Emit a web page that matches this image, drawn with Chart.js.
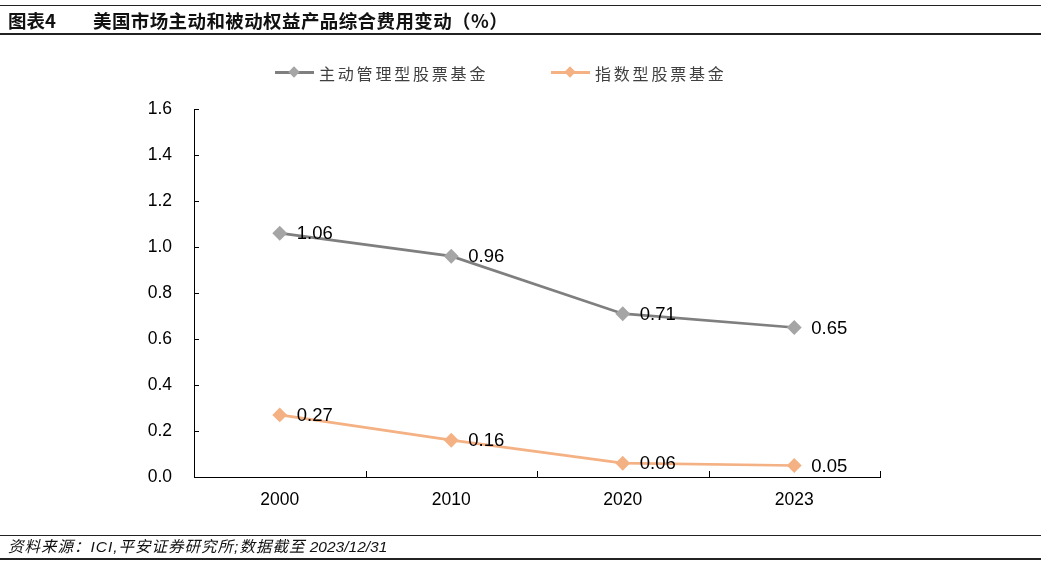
<!DOCTYPE html>
<html><head><meta charset="utf-8">
<script src="https://cdn.jsdelivr.net/npm/chart.js@4.4.0/dist/chart.umd.min.js"></script>
<style>
html,body{margin:0;padding:0;background:#fff;}
body{width:1041px;height:565px;position:relative;overflow:hidden;font-family:"Liberation Sans",Arial,sans-serif;}
#wrap{position:absolute;left:0;top:0;width:1041px;height:565px;}
.hdr{position:absolute;left:0;top:5px;width:1041px;height:30px;border-top:1px solid #222;border-bottom:2px solid #222;box-sizing:border-box;}
.hdr span{position:absolute;top:1px;line-height:26px;font-family:"Noto Sans CJK SC",sans-serif;font-weight:bold;font-size:18.5px;color:#111;}
.ftr{position:absolute;left:0;top:535px;width:1041px;height:25px;border-top:1px solid #222;border-bottom:2px solid #222;box-sizing:border-box;}
.ftr .t{position:absolute;left:8px;top:0px;line-height:22px;white-space:nowrap;font-family:"Liberation Sans","Noto Sans CJK SC",sans-serif;font-style:italic;font-size:15.5px;color:#111;}
.ftr .cj{letter-spacing:1px;}
.leg{position:absolute;top:61px;height:22px;}
.leg .ln{position:absolute;top:10px;left:0;width:39px;height:3px;}
.leg .dm{position:absolute;top:7px;left:15px;width:8px;height:8px;transform:rotate(45deg);}
.leg .tx{position:absolute;left:44px;top:0;white-space:nowrap;font-family:"Noto Sans CJK SC",sans-serif;font-size:16px;letter-spacing:2.8px;color:#404040;}
</style></head>
<body>
<div id="wrap"><canvas id="c" width="1041" height="565"></canvas></div>
<div class="hdr"><span style="left:8px">图表4</span><span style="left:93px;letter-spacing:0.4px">美国市场主动和被动权益产品综合费用变动（%）</span></div>
<div class="leg" style="left:275px"><div class="ln" style="background:#7f7f7f"></div><div class="dm" style="background:#a5a5a5"></div><div class="tx">主动管理型股票基金</div></div>
<div class="leg" style="left:551px"><div class="ln" style="background:#f4b183"></div><div class="dm" style="background:#f4b183"></div><div class="tx">指数型股票基金</div></div>
<div class="ftr"><span class="t"><span class="cj">资料来源：ICI,平安证券研究所;数据截至</span> 2023/12/31</span></div>
<script>
const categories = ["2000", "2010", "2020", "2023"];
const activeFees = [1.06, 0.96, 0.71, 0.65];
const indexFees = [0.27, 0.16, 0.06, 0.05];
const seriesNames = ["主动管理型股票基金", "指数型股票基金"];

const tickMarks = {
  id: 'tickMarks',
  afterDraw(chart) {
    const ctx = chart.ctx, x = chart.scales.x, y = chart.scales.y;
    ctx.save();
    ctx.strokeStyle = '#000'; ctx.lineWidth = 1;
    y.ticks.forEach(t => {
      const py = Math.round(y.getPixelForValue(t.value)) + 0.5;
      ctx.beginPath(); ctx.moveTo(x.left, py); ctx.lineTo(x.left + 5, py); ctx.stroke();
    });
    const n = categories.length;
    for (let i = 0; i <= n; i++) {
      let px;
      if (i === 0) px = x.left; else if (i === n) px = x.right;
      else px = (x.getPixelForValue(i - 1) + x.getPixelForValue(i)) / 2;
      px = Math.round(px) + 0.5;
      ctx.beginPath(); ctx.moveTo(px, y.bottom); ctx.lineTo(px, y.bottom - 6); ctx.stroke();
    }
    ctx.restore();
  }
};
const dataLabels = {
  id: 'dataLabels',
  afterDatasetsDraw(chart) {
    const ctx = chart.ctx;
    ctx.save();
    ctx.font = '18.5px "Liberation Sans", Arial, sans-serif';
    ctx.fillStyle = '#000';
    ctx.textAlign = 'left';
    ctx.textBaseline = 'middle';
    chart.data.datasets.forEach((ds, di) => {
      const meta = chart.getDatasetMeta(di);
      meta.data.forEach((pt, i) => {
        ctx.fillText(ds.data[i].toFixed(2), pt.x + 17, pt.y + 1);
      });
    });
    ctx.restore();
  }
};

new Chart(document.getElementById('c'), {
  type: 'line',
  data: {
    labels: categories,
    datasets: [
      { label: seriesNames[0], data: activeFees, borderColor: '#7f7f7f', backgroundColor: '#a5a5a5',
        pointBackgroundColor: '#a5a5a5', pointBorderColor: '#a5a5a5', borderWidth: 2.75,
        pointStyle: 'rectRot', pointRadius: 5.5, tension: 0 },
      { label: seriesNames[1], data: indexFees, borderColor: '#f4b183', backgroundColor: '#f4b183',
        pointBackgroundColor: '#f4b183', pointBorderColor: '#f4b183', borderWidth: 2.75,
        pointStyle: 'rectRot', pointRadius: 5.5, tension: 0 }
    ]
  },
  options: {
    responsive: false,
    animation: false,
    layout: { padding: { left: 0, top: 109, right: 161, bottom: 48 } },
    plugins: { legend: { display: false }, tooltip: { enabled: false } },
    scales: {
      x: {
        offset: true,
        grid: { drawOnChartArea: false, drawTicks: false, offset: true },
        border: { color: '#000', width: 1 },
        ticks: { color: '#000', font: { family: '"Liberation Sans", Arial, sans-serif', size: 17.5 }, padding: 13 },
        afterFit(s) { s.height = 40; }
      },
      y: {
        min: 0, max: 1.6,
        grid: { drawOnChartArea: false, drawTicks: false },
        border: { color: '#000', width: 1 },
        ticks: { stepSize: 0.2, color: '#000', font: { family: '"Liberation Sans", Arial, sans-serif', size: 17.5 }, padding: 22,
          callback: v => v.toFixed(1) },
        afterFit(s) { s.width = 194; }
      }
    }
  },
  plugins: [tickMarks, dataLabels]
});
</script>
</body></html>
